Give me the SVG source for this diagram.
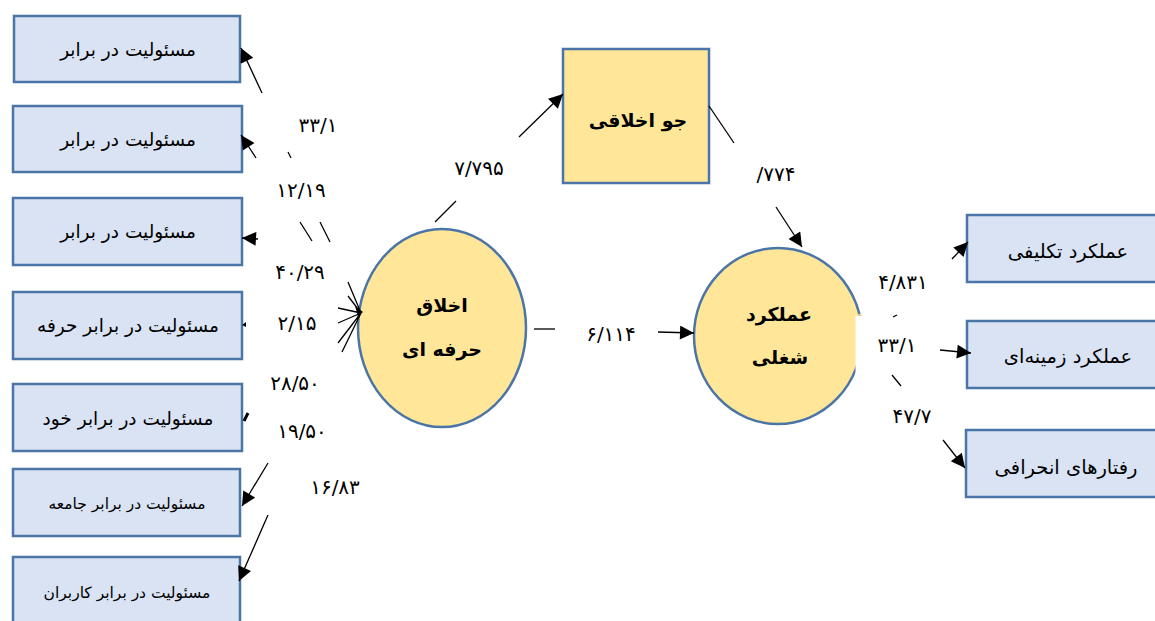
<svg xmlns="http://www.w3.org/2000/svg" width="1155" height="621" viewBox="0 0 1155 621">
<defs>
<style>
.box{fill:#dae3f3;stroke:#4a75a6;stroke-width:2.5}
.yel{fill:#ffe699;stroke:#4a75a6;stroke-width:2.5}
.t{font-family:"DejaVu Sans",sans-serif;font-size:18.5px;fill:#000;text-anchor:middle;direction:rtl}
.tr{font-family:"DejaVu Sans",sans-serif;font-size:19.5px;fill:#000;text-anchor:middle;direction:rtl}
.ts{font-family:"DejaVu Sans",sans-serif;font-size:15.5px;fill:#000;text-anchor:middle;direction:rtl}
.tb{font-family:"DejaVu Sans",sans-serif;font-size:19px;font-weight:bold;fill:#000;text-anchor:middle;direction:rtl}
.n{font-family:"DejaVu Sans",sans-serif;font-size:20px;fill:#000;text-anchor:middle}
.c{stroke:#000;stroke-width:1.3;fill:none}
.a{marker-end:url(#ah)}
</style>
<marker id="ah" viewBox="0 0 10 10" refX="10" refY="5" markerWidth="16" markerHeight="14" markerUnits="userSpaceOnUse" orient="auto"><path d="M0,0 L10,5 L0,10 z" fill="#000"/></marker>
</defs>
<rect width="1155" height="621" fill="#fff"/>

<g id="box1"><rect class="box" x="14" y="16" width="226" height="66"/><text class="t" x="128" y="56">مسئولیت در برابر</text></g>
<g id="box2"><rect class="box" x="13" y="106" width="229" height="66"/><text class="t" x="128" y="146">مسئولیت در برابر</text></g>
<g id="box3"><rect class="box" x="13" y="198" width="229" height="67"/><text class="t" x="128" y="238">مسئولیت در برابر</text></g>
<g id="box4"><rect class="box" x="13" y="292" width="229" height="67"/><text class="t" x="128" y="332">مسئولیت در برابر حرفه</text></g>
<g id="box5"><rect class="box" x="13" y="384" width="229" height="67"/><text class="t" x="128" y="425">مسئولیت در برابر خود</text></g>
<g id="box6"><rect class="box" x="13" y="469" width="227" height="67"/><text class="ts" x="127" y="509">مسئولیت در برابر جامعه</text></g>
<g id="box7"><rect class="box" x="13" y="557" width="227" height="80"/><text class="ts" x="127" y="598">مسئولیت در برابر کاربران</text></g>

<g id="akhlagh"><ellipse class="yel" cx="442" cy="328" rx="84" ry="99"/><text class="tb" x="442" y="312">اخلاق</text><text class="tb" x="442" y="356">حرفه ای</text></g>
<g id="jo"><rect class="yel" x="563" y="49" width="146" height="134"/><text class="tb" x="638" y="127">جو اخلاقی</text></g>
<g id="amalkard"><ellipse class="yel" cx="778" cy="336" rx="84" ry="88"/><rect x="855.5" y="316" width="20" height="60" fill="#fff"/><path d="M855,315 L862,315" stroke="#ffe699" stroke-width="1.5"/><text class="tb" x="779" y="321">عملکرد</text><text class="tb" x="780" y="364">شغلی</text></g>

<g id="r1"><rect class="box" x="967" y="215" width="220" height="67"/><text class="tr" x="1068" y="258">عملکرد تکلیفی</text></g>
<g id="r2"><rect class="box" x="967" y="321" width="220" height="67"/><text class="tr" x="1068" y="363">عملکرد زمینه‌ای</text></g>
<g id="r3"><rect class="box" x="966" y="430" width="220" height="67"/><text class="tr" x="1066" y="474">رفتارهای انحرافی</text></g>

<g id="connectors">
<path class="c a" d="M262,93 L241,48"/>
<path class="c a" d="M256,158 L241,135"/>
<path class="c a" d="M258,239 L242,238"/>
<path class="c" d="M288,152 L291,158"/>
<path class="c" d="M300,222 L312,241"/>
<path class="c" d="M320,222 L330,242"/>
<path d="M246,322 L242,325 L246,327 z" fill="#000"/>
<path d="M248,413 L244,421" stroke="#000" stroke-width="3"/>
<path class="c a" d="M268,463 L242,506"/>
<path class="c a" d="M268,515 L239,581"/>
<path class="c" d="M348,282 L361,313 M348,296 L361,313 M338,308 L361,313 M338,323 L361,313 M338,343 L361,313 M342,352 L361,313"/>
<path d="M355,306 L363,312 L358,316 z" fill="#000"/>
<path class="c" d="M435,222 L456,201"/>
<path class="c a" d="M519,137 L563,94"/>
<path class="c" d="M709,106 L734,143"/>
<path class="c a" d="M776,207 L802,247"/>
<path class="c" d="M534,329 L555,329"/>
<path class="c a" d="M658,332 L694,333"/>
<path class="c a" d="M952,259 L968,242"/>
<path class="c a" d="M940,350 L971,353"/>
<path class="c a" d="M943,440 L965,468"/>
<path class="c" d="M893,317 L897,315"/>
<path class="c" d="M892,375 L901,386"/>
</g>

<g id="labels">
<text class="n" x="318" y="132">۳۳/۱</text>
<text class="n" x="301" y="197">۱۲/۱۹</text>
<text class="n" x="300" y="279">۴۰/۲۹</text>
<text class="n" x="297" y="330">۲/۱۵</text>
<text class="n" x="295" y="390">۲۸/۵۰</text>
<text class="n" x="302" y="438">۱۹/۵۰</text>
<text class="n" x="335" y="494">۱۶/۸۳</text>
<text class="n" x="479" y="175">۷/۷۹۵</text>
<text class="n" x="776" y="181">/۷۷۴</text>
<text class="n" x="611" y="341">۶/۱۱۴</text>
<text class="n" x="903" y="289">۴/۸۳۱</text>
<text class="n" x="897" y="352">۳۳/۱</text>
<text class="n" x="912" y="423">۴۷/۷</text>
</g>
</svg>
